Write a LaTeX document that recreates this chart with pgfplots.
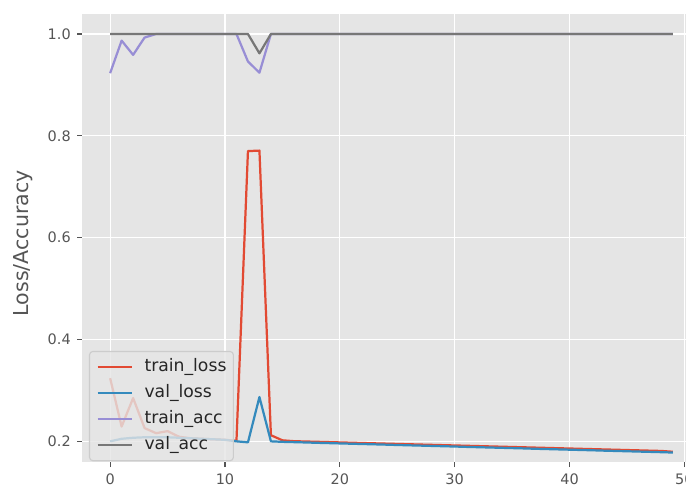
\documentclass[border=0pt]{standalone}
\usepackage{pgfplots}
\pgfplotsset{compat=1.18}
\usepackage{fontspec}
\setmainfont{DejaVu Sans}
\definecolor{bggrey}{HTML}{E5E5E5}
\definecolor{txtgrey}{HTML}{555555}
\definecolor{cred}{HTML}{E24A33}
\definecolor{cblue}{HTML}{348ABD}
\definecolor{cpurple}{HTML}{988ED5}
\definecolor{cgrey}{HTML}{777777}
\definecolor{edgegrey}{HTML}{CCCCCC}
\begin{document}
\begin{tikzpicture}
\begin{axis}[
  at={(0,0)}, anchor=south west,
  scale only axis,
  width=445.68pt, height=322.56pt,
  xmin=-2.45, xmax=51.45,
  ymin=0.1594, ymax=1.0393,
  xtick={0,10,20,30,40,50},
  ytick={0.2,0.4,0.6,0.8,1.0},
  yticklabels={0.2,0.4,0.6,0.8,1.0},
  /pgf/number format/assume math mode=true,
  grid=major,
  major grid style={white, line width=0.8pt},
  axis background/.style={fill=bggrey},
  axis line style={draw=none},
  tick align=outside,
  tick pos=left,
  major tick length=3.6pt,
  tick style={color=txtgrey, line width=0.8pt},
  ticklabel style={font=\fontsize{10.4}{12}\selectfont, text=txtgrey},
  xticklabel style={yshift=-1pt},
  yticklabel style={xshift=-1pt},
  ylabel={Loss/Accuracy},
  ylabel style={font=\fontsize{14.8}{17}\selectfont, text=txtgrey,
    at={(axis description cs:-0.0953,0.488)}, anchor=center},
  legend cell align=left,
  legend style={at={(axis description cs:0,0)}, anchor=south west,
    xshift=5pt, yshift=0.5pt,
    fill=bggrey, fill opacity=0.8, text opacity=1,
    draw=edgegrey, rounded corners=2.5pt, line width=0.8pt,
    font=\fontsize{12.4}{14}\selectfont, text=black!85,
    nodes={inner sep=0pt, text height=9.3pt, text depth=3.3pt},
    row sep=6.1pt, column sep=8pt, inner xsep=5pt, inner ysep=5pt},
  legend image code/.code={\draw[#1, line width=1.6pt] (0pt,0pt) -- (25pt,0pt);},
  every axis plot/.append style={line width=1.6pt, line join=round},
]
\addplot[cred] coordinates {
(0,0.324)(1,0.229)(2,0.285)(3,0.226)(4,0.216)(5,0.220)(6,0.209)(7,0.206)(8,0.205)(9,0.204)
(10,0.203)(11,0.201)(12,0.770)(13,0.771)(14,0.212)(15,0.202)(16,0.2003)(17,0.1997)(18,0.1991)(19,0.1985)
(20,0.1979)(21,0.1973)(22,0.1967)(23,0.1961)(24,0.1955)(25,0.1949)(26,0.1943)(27,0.1937)(28,0.1931)(29,0.1925)
(30,0.1919)(31,0.1913)(32,0.1907)(33,0.1901)(34,0.1895)(35,0.1889)(36,0.1883)(37,0.1877)(38,0.1871)(39,0.1865)
(40,0.1859)(41,0.1853)(42,0.1847)(43,0.1841)(44,0.1835)(45,0.1829)(46,0.1823)(47,0.1817)(48,0.1811)(49,0.1795)
};
\addlegendentry{train\_loss}
\addplot[cblue] coordinates {
(0,0.200)(1,0.205)(2,0.207)(3,0.208)(4,0.208)(5,0.208)(6,0.207)(7,0.206)(8,0.205)(9,0.204)
(10,0.203)(11,0.200)(12,0.198)(13,0.287)(14,0.200)(15,0.199)(16,0.1984)(17,0.1978)(18,0.1971)(19,0.1965)
(20,0.1959)(21,0.1953)(22,0.1947)(23,0.1941)(24,0.1935)(25,0.1928)(26,0.1922)(27,0.1916)(28,0.1910)(29,0.1904)
(30,0.1898)(31,0.1891)(32,0.1885)(33,0.1879)(34,0.1873)(35,0.1867)(36,0.1861)(37,0.1854)(38,0.1848)(39,0.1842)
(40,0.1836)(41,0.1830)(42,0.1824)(43,0.1817)(44,0.1811)(45,0.1805)(46,0.1799)(47,0.1793)(48,0.1787)(49,0.1780)
};
\addlegendentry{val\_loss}
\addplot[cpurple] coordinates {
(0,0.923)(1,0.987)(2,0.959)(3,0.993)(4,1.0)(5,1.0)(6,1.0)(7,1.0)(8,1.0)(9,1.0)
(10,1.0)(11,1.0)(12,0.946)(13,0.924)(14,1.0)(15,1.0)(16,1.0)(17,1.0)(18,1.0)(19,1.0)
(20,1.0)(21,1.0)(22,1.0)(23,1.0)(24,1.0)(25,1.0)(26,1.0)(27,1.0)(28,1.0)(29,1.0)
(30,1.0)(31,1.0)(32,1.0)(33,1.0)(34,1.0)(35,1.0)(36,1.0)(37,1.0)(38,1.0)(39,1.0)
(40,1.0)(41,1.0)(42,1.0)(43,1.0)(44,1.0)(45,1.0)(46,1.0)(47,1.0)(48,1.0)(49,1.0)
};
\addlegendentry{train\_acc}
\addplot[cgrey] coordinates {
(0,1.0)(1,1.0)(2,1.0)(3,1.0)(4,1.0)(5,1.0)(6,1.0)(7,1.0)(8,1.0)(9,1.0)
(10,1.0)(11,1.0)(12,1.0)(13,0.962)(14,1.0)(15,1.0)(16,1.0)(17,1.0)(18,1.0)(19,1.0)
(20,1.0)(21,1.0)(22,1.0)(23,1.0)(24,1.0)(25,1.0)(26,1.0)(27,1.0)(28,1.0)(29,1.0)
(30,1.0)(31,1.0)(32,1.0)(33,1.0)(34,1.0)(35,1.0)(36,1.0)(37,1.0)(38,1.0)(39,1.0)
(40,1.0)(41,1.0)(42,1.0)(43,1.0)(44,1.0)(45,1.0)(46,1.0)(47,1.0)(48,1.0)(49,1.0)
};
\addlegendentry{val\_acc}
\end{axis}
\pgfresetboundingbox
\useasboundingbox (-59.04pt,-28.8pt) rectangle (434.88pt,332.64pt);
\end{tikzpicture}
\end{document}
